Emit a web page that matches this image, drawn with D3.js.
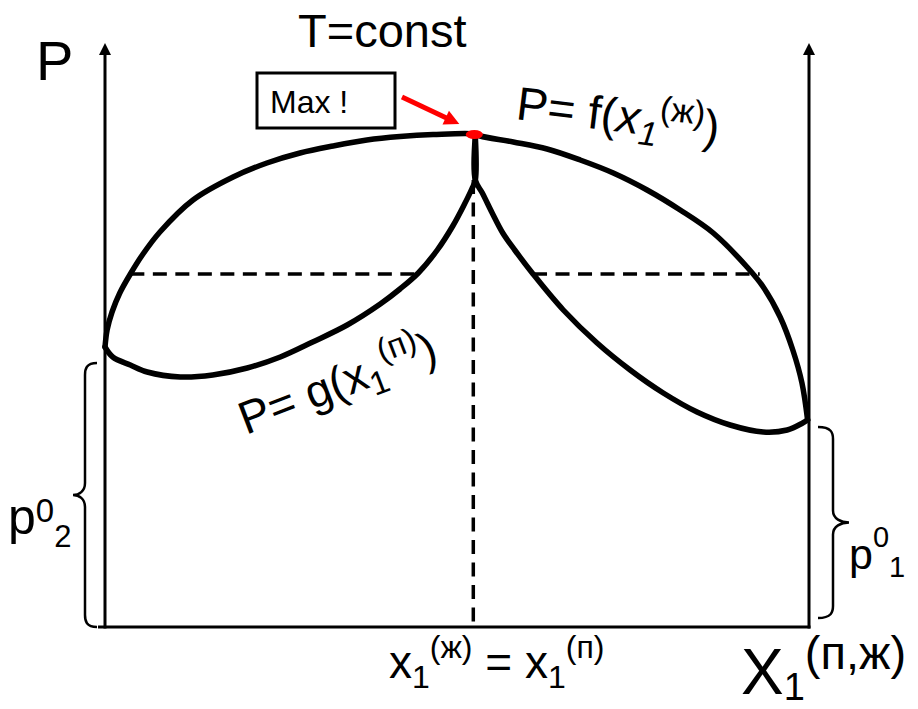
<!DOCTYPE html>
<html>
<head>
<meta charset="utf-8">
<script src="https://cdn.jsdelivr.net/npm/d3@7"></script>
<style>
  html, body { margin: 0; padding: 0; background: #fff; }
  text { font-family: "Liberation Sans", Arial, Helvetica, sans-serif; fill: #000; }
</style>
</head>
<body>
<svg id="chart" width="918" height="709"></svg>
<script>
// Isothermal P–x diagram of a binary mixture with a pressure maximum (azeotrope).
// Composition x1 runs 0..1, pressure P in arbitrary units.

// Boiling (liquid) curve P = f(x1 liquid): [x1, P]
const liquidCurve = [
  [0.000, 28.0], [0.003, 29.7], [0.010, 31.5], [0.021, 33.4], [0.036, 35.3],
  [0.054, 37.3], [0.078, 39.5], [0.125, 42.7], [0.182, 45.0], [0.230, 46.4],
  [0.277, 47.4], [0.324, 48.1], [0.372, 48.7], [0.419, 49.05], [0.466, 49.25],
  [0.526, 49.3], [0.533, 49.1], [0.580, 48.5], [0.628, 47.8], [0.675, 46.7],
  [0.722, 45.4], [0.770, 43.7], [0.817, 41.7], [0.864, 39.4], [0.912, 36.0],
  [0.935, 34.0], [0.959, 31.0], [0.977, 27.7], [0.990, 24.4], [0.998, 20.7]
];

// Condensation (vapour) curve P = g(x1 vapour), left branch: [x1, P]
const vaporLeft = [
  [0.000, 28.0], [0.011, 27.0], [0.036, 26.2], [0.060, 25.5], [0.107, 25.0],
  [0.153, 25.2], [0.202, 25.9], [0.249, 27.0], [0.295, 28.5], [0.344, 30.2],
  [0.391, 32.3], [0.419, 33.8], [0.445, 35.4], [0.472, 37.7], [0.494, 40.1],
  [0.510, 42.2], [0.521, 43.8], [0.526, 44.7], [0.526, 49.1]
];

// Condensation (vapour) curve, right branch: [x1, P]
const vaporRight = [
  [0.526, 49.1], [0.526, 44.7], [0.536, 43.4], [0.550, 41.4], [0.565, 39.4],
  [0.582, 37.7], [0.608, 35.3], [0.651, 31.7], [0.699, 28.4], [0.746, 25.7],
  [0.793, 23.4], [0.841, 21.5], [0.888, 20.2], [0.935, 19.5], [0.969, 19.7],
  [0.991, 20.4], [0.998, 20.7]
];

// Azeotropic point (maximum pressure)
const azeotrope = { x: 0.526, P: 49.3, stemP: 44.7 };

// Tie lines (isobars) between the two curves: [P, x1 start, x1 end]
const tieLines = [
  [35.3, 0.036, 0.443],
  [35.3, 0.608, 0.930]
];

// Vapour pressures of the pure components
const pureP = { p2: 28.0, p1: 20.7 };

// Axis extents
const xDomain = [0, 1];
const pDomain = [0, 58.4];

const svg = d3.select("#chart");
const x = d3.scaleLinear().domain(xDomain).range([105, 809]);
const y = d3.scaleLinear().domain(pDomain).range([627, 43]);

const line = d3.line()
  .x(d => x(d[0]))
  .y(d => y(d[1]))
  .curve(d3.curveCatmullRom.alpha(0.5));

// ---- axes ----
const axisG = svg.append("g").attr("stroke", "#000").attr("stroke-width", 3).attr("fill", "none");
function vAxis(xv) {
  const px = x(xv);
  axisG.append("line")
    .attr("x1", px).attr("x2", px)
    .attr("y1", y(0) + 1.5).attr("y2", y(pDomain[1]) + 10);
  svg.append("path")
    .attr("d", `M${px},${y(pDomain[1])} L${px - 6},${y(pDomain[1]) + 12} L${px + 6},${y(pDomain[1]) + 12} Z`)
    .attr("fill", "#000");
}
vAxis(0);
vAxis(1);
axisG.append("line")
  .attr("x1", x(0) - 7).attr("x2", x(1) + 1.5)
  .attr("y1", y(0)).attr("y2", y(0));

// ---- dashed guides ----
const dashG = svg.append("g")
  .attr("stroke", "#000").attr("stroke-width", 3.5)
  .attr("stroke-dasharray", "14,8.5").attr("fill", "none");
dashG.selectAll("line.tie").data(tieLines).join("line")
  .attr("class", "tie")
  .attr("x1", d => x(d[1])).attr("x2", d => x(d[2]))
  .attr("y1", d => y(d[0])).attr("y2", d => y(d[0]));
dashG.append("line")
  .attr("x1", x(azeotrope.x) - 2).attr("x2", x(azeotrope.x) - 2)
  .attr("y1", y(azeotrope.stemP)).attr("y2", y(0));

// ---- curves ----
const curveG = svg.append("g")
  .attr("fill", "none").attr("stroke", "#000")
  .attr("stroke-width", 5.5).attr("stroke-linecap", "round").attr("stroke-linejoin", "round");
curveG.append("path").attr("d", line(liquidCurve));
curveG.append("path").attr("d", line(vaporLeft));
curveG.append("path").attr("d", line(vaporRight));

// maximum marker
svg.append("ellipse")
  .attr("cx", x(azeotrope.x) - 1).attr("cy", y(azeotrope.P) + 0.5)
  .attr("rx", 8.5).attr("ry", 4.5)
  .attr("fill", "#ff0000");

// ---- braces for pure-component pressures ----
const braceG = svg.append("g").attr("fill", "none").attr("stroke", "#000").attr("stroke-width", 2.5);
function brace(xTip, xStem, xEnd, yTop, yBot, r) {
  const ym = (yTop + yBot) / 2;
  return `M${xEnd},${yTop} C${xStem + (xEnd - xStem) * 0.1},${yTop} ${xStem},${yTop + r * 0.5} ${xStem},${yTop + r}` +
         ` L${xStem},${ym - r}` +
         ` C${xStem},${ym - r * 0.3} ${xTip + (xStem - xTip) * 0.5},${ym} ${xTip},${ym}` +
         ` C${xTip + (xStem - xTip) * 0.5},${ym} ${xStem},${ym + r * 0.3} ${xStem},${ym + r}` +
         ` L${xStem},${yBot - r}` +
         ` C${xStem},${yBot - r * 0.5} ${xStem + (xEnd - xStem) * 0.1},${yBot} ${xEnd},${yBot}`;
}
braceG.append("path").attr("d", brace(x(0) - 32, x(0) - 20, x(0) - 8, y(pureP.p2) + 16, y(0), 12));
braceG.append("path").attr("d", brace(x(1) + 40, x(1) + 24, x(1) + 9, y(pureP.p1) + 7, y(0) - 9, 12));

// ---- red arrow pointing at the maximum ----
(function () {
  const tx = x(azeotrope.x) - 16, ty = y(azeotrope.P) - 10;
  const sx = 402, sy = 97;
  const dx = tx - sx, dy = ty - sy, len = Math.hypot(dx, dy);
  const ux = dx / len, uy = dy / len, hl = 15, hw = 7.5;
  const bx = tx - ux * hl, by = ty - uy * hl;
  svg.append("line")
    .attr("x1", sx).attr("y1", sy).attr("x2", bx + ux * 2).attr("y2", by + uy * 2)
    .attr("stroke", "#ff0000").attr("stroke-width", 5);
  svg.append("path")
    .attr("d", `M${tx},${ty} L${bx - uy * hw},${by + ux * hw} L${bx + uy * hw},${by - ux * hw} Z`)
    .attr("fill", "#ff0000");
})();

// ---- "Max !" box ----
svg.append("rect")
  .attr("x", 257).attr("y", 73).attr("width", 138).attr("height", 55)
  .attr("fill", "#fff").attr("stroke", "#000").attr("stroke-width", 3);
svg.append("text").attr("x", 270).attr("y", 113).attr("font-size", 32).text("Max !");

// ---- text with sub/superscripts ----
// parts: [text, fontSize, baselineOffset, italic]
function rich(xp, yp, parts, rotate) {
  const t = svg.append("text").attr("x", xp).attr("y", yp);
  if (rotate) t.attr("transform", `rotate(${rotate},${xp},${yp})`);
  let cur = 0;
  parts.forEach(([s, fs, off, it]) => {
    const sp = t.append("tspan").attr("font-size", fs).attr("dy", off - cur).text(s);
    if (it) sp.attr("font-style", "italic");
    cur = off;
  });
  return t;
}

svg.append("text").attr("x", 36).attr("y", 80).attr("font-size", 56).text("P");
svg.append("text").attr("x", 298).attr("y", 47).attr("font-size", 47).text("T=const");

rich(515, 119, [["P= f(", 47, 0], ["x", 47, 0, true], ["1", 34, 10, true], ["(ж)", 34, -17], [")", 47, 0]], 7);
rich(246, 435, [["P= g(x", 46, 0], ["1", 33, 10], ["(п)", 33, -19], [")", 46, 0]], -21);

rich(8, 534, [["p", 50, 0], ["0", 33, -12], ["2", 31, 13]]);
rich(849, 569, [["p", 43, 0], ["0", 29, -22], ["1", 29, 8]]);

rich(389, 678, [["x", 46, 0], ["1", 32, 10], ["(ж)", 32, -20], [" = x", 46, 0], ["1", 32, 10], ["(п)", 32, -20]]);
rich(741, 694, [["X", 64, 0], ["1", 38, 6], ["(п,ж)", 47, -25]]);
</script>
</body>
</html>
